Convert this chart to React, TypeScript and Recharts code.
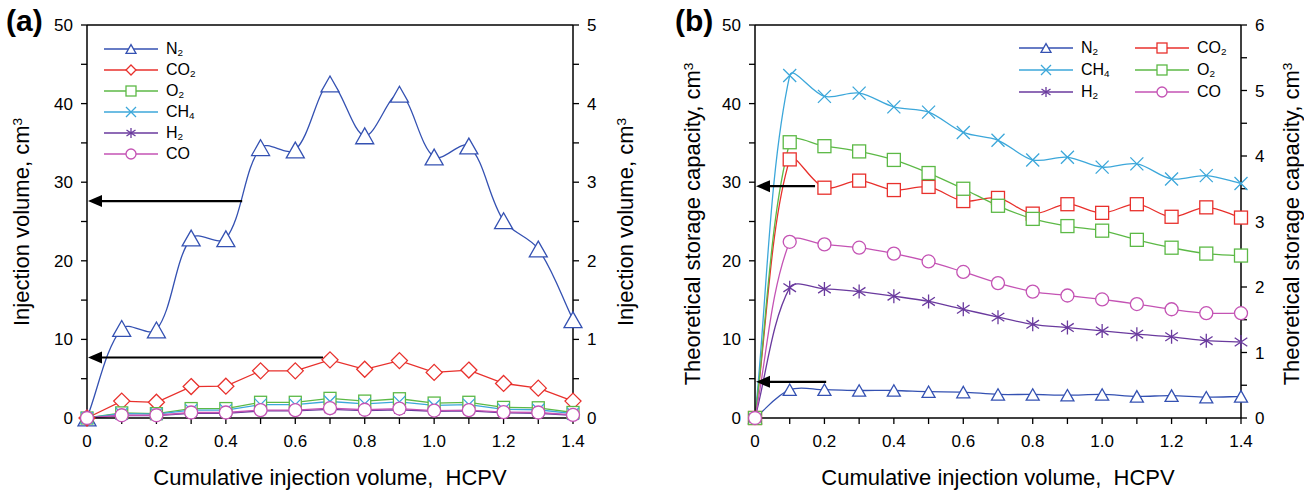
import React from 'react';
import { LineChart, Line, XAxis, YAxis, ReferenceLine, Legend } from 'recharts';

const FONT = '"Liberation Sans", Arial, Helvetica, sans-serif';

// cumulative injection volume, HCPV
const hcpv = [0, 0.1, 0.2, 0.3, 0.4, 0.5, 0.6, 0.7, 0.8, 0.9, 1.0, 1.1, 1.2, 1.3, 1.4];
const xTicks = [0, 0.1, 0.2, 0.3, 0.4, 0.5, 0.6, 0.7, 0.8, 0.9, 1.0, 1.1, 1.2, 1.3, 1.4];
const leftTicks = [0, 5, 10, 15, 20, 25, 30, 35, 40, 45, 50];
const rightTicksA = [0, 0.5, 1, 1.5, 2, 2.5, 3, 3.5, 4, 4.5, 5];
const rightTicksB = [0, 0.5, 1, 1.5, 2, 2.5, 3, 3.5, 4, 4.5, 5, 5.5, 6];

// (a) injection volume, cm3 -- N2 / CO2 on the left axis, the rest on the right axis
const injN2 = [0, 11.4, 11.2, 22.9, 22.8, 34.4, 34.1, 42.5, 35.9, 41.2, 33.2, 34.6, 25.1, 21.5, 12.5];
const injCO2 = [0, 2.15, 2.0, 4.0, 4.05, 6.0, 6.0, 7.4, 6.2, 7.3, 5.8, 6.1, 4.4, 3.8, 2.15];
const injO2 = [0, 0.065, 0.055, 0.12, 0.12, 0.2, 0.2, 0.25, 0.215, 0.245, 0.19, 0.2, 0.135, 0.13, 0.07];
const injCH4 = [0, 0.055, 0.05, 0.1, 0.1, 0.17, 0.17, 0.21, 0.18, 0.205, 0.16, 0.17, 0.11, 0.105, 0.055];
const injH2 = [0, 0.03, 0.03, 0.06, 0.06, 0.09, 0.09, 0.11, 0.095, 0.105, 0.085, 0.09, 0.065, 0.06, 0.035];
const injCO = [0, 0.035, 0.035, 0.07, 0.07, 0.1, 0.1, 0.125, 0.105, 0.12, 0.095, 0.1, 0.075, 0.07, 0.04];

// (b) theoretical storage capacity, cm3 -- N2 / CO2 left axis, the rest right axis
const stoN2 = [0, 3.6, 3.6, 3.5, 3.5, 3.35, 3.3, 3.0, 3.0, 2.9, 3.0, 2.75, 2.85, 2.65, 2.75];
const stoCO2 = [0, 32.9, 29.3, 30.2, 29.0, 29.4, 27.6, 28.0, 26.0, 27.2, 26.1, 27.2, 25.6, 26.8, 25.5];
const stoCH4 = [0, 5.23, 4.91, 4.96, 4.75, 4.67, 4.36, 4.24, 3.94, 3.98, 3.83, 3.88, 3.65, 3.7, 3.58];
const stoO2 = [0, 4.21, 4.15, 4.07, 3.94, 3.74, 3.5, 3.24, 3.04, 2.93, 2.86, 2.72, 2.6, 2.51, 2.48];
const stoH2 = [0, 1.99, 1.97, 1.93, 1.86, 1.78, 1.66, 1.54, 1.43, 1.38, 1.33, 1.28, 1.24, 1.18, 1.16];
const stoCO = [0, 2.69, 2.65, 2.6, 2.51, 2.39, 2.23, 2.06, 1.93, 1.87, 1.81, 1.74, 1.66, 1.6, 1.6];

// arrows pointing to the left axis: start x (HCPV) and level (left-axis units)
const arrowsA = [
  { from: 0.447, y: 27.6 },
  { from: 0.68, y: 7.7 },
];
const arrowsB = [
  { from: 0.173, y: 29.5 },
  { from: 0.205, y: 4.6 },
];

const rowsA = hcpv.map((x, i) => ({
  x, n2: injN2[i], co2: injCO2[i], o2: injO2[i], ch4: injCH4[i], h2: injH2[i], co: injCO[i],
}));
const rowsB = hcpv.map((x, i) => ({
  x, n2: stoN2[i], co2: stoCO2[i], ch4: stoCH4[i], o2: stoO2[i], h2: stoH2[i], co: stoCO[i],
}));

const sub = (s: string) => <sub style={{ fontSize: '0.62em', verticalAlign: '-0.2em', lineHeight: 0 }}>{s}</sub>;

const gas: Record<string, { color: string; label: React.ReactNode }> = {
  n2: { color: '#3451b2', label: <>N{sub('2')}</> },
  co2: { color: '#e8302c', label: <>CO{sub('2')}</> },
  o2: { color: '#5cb946', label: <>O{sub('2')}</> },
  ch4: { color: '#3ca7da', label: <>CH{sub('4')}</> },
  h2: { color: '#6a3a9e', label: <>H{sub('2')}</> },
  co: { color: '#c453b4', label: <>CO</> },
};

// marker shapes differ a little between the panels (CO2 is a diamond in (a), a square in (b))
const shapesA: Record<string, string> = { n2: 'triangle', co2: 'diamond', o2: 'square', ch4: 'cross', h2: 'star', co: 'circle' };
const shapesB: Record<string, string> = { n2: 'triangle', co2: 'square', o2: 'square', ch4: 'cross', h2: 'star', co: 'circle' };

// smoothed line similar to a spreadsheet "smoothed line": bezier tangents weighted by segment length
const smoothCurve: any = (context: any) => {
  let pts: number[][] = [];
  return {
    areaStart() {},
    areaEnd() {},
    lineStart() { pts = []; },
    point(x: number, y: number) { pts.push([+x, +y]); },
    lineEnd() {
      const n = pts.length;
      if (!n) return;
      context.moveTo(pts[0][0], pts[0][1]);
      const d = (a: number[], b: number[]) => Math.hypot(b[0] - a[0], b[1] - a[1]);
      for (let i = 0; i < n - 1; i++) {
        const p0 = pts[Math.max(i - 1, 0)], p1 = pts[i], p2 = pts[i + 1], p3 = pts[Math.min(i + 2, n - 1)];
        const d01 = d(p0, p1), d12 = d(p1, p2), d23 = d(p2, p3);
        const f1 = d01 + d12 > 0 ? d12 / (d01 + d12) / 3 : 0;
        const f2 = d12 + d23 > 0 ? d12 / (d12 + d23) / 3 : 0;
        context.bezierCurveTo(
          p1[0] + (p2[0] - p0[0]) * f1, p1[1] + (p2[1] - p0[1]) * f1,
          p2[0] - (p3[0] - p1[0]) * f2, p2[1] - (p3[1] - p1[1]) * f2,
          p2[0], p2[1],
        );
      }
    },
  };
};

function Marker({ shape, cx, cy, size, color }: any) {
  const h = size / 2;
  const p = { fill: '#fff', stroke: color, strokeWidth: 1.3 };
  if (shape === 'triangle') {
    const th = h * 0.88;
    return <polygon {...p} points={`${cx},${cy - th} ${cx - h},${cy + th} ${cx + h},${cy + th}`} />;
  }
  if (shape === 'diamond') {
    return <polygon {...p} points={`${cx},${cy - h} ${cx + h},${cy} ${cx},${cy + h} ${cx - h},${cy}`} />;
  }
  if (shape === 'square') return <rect {...p} x={cx - h} y={cy - h} width={size} height={size} />;
  if (shape === 'circle') return <circle {...p} cx={cx} cy={cy} r={h} />;
  if (shape === 'cross') {
    return <path {...p} fill="none" d={`M${cx - h},${cy - h}L${cx + h},${cy + h}M${cx - h},${cy + h}L${cx + h},${cy - h}`} />;
  }
  const a = h * 0.9, b = h * 0.6;
  return (
    <path {...p} fill="none"
      d={`M${cx},${cy - h}L${cx},${cy + h}M${cx - a},${cy - b}L${cx + a},${cy + b}M${cx - a},${cy + b}L${cx + a},${cy - b}`} />
  );
}

const dotFor = (key: string, shape: string, size: number) => (props: any) => {
  const { cx, cy, index } = props;
  if (cx == null || cy == null) return <g key={`${key}-${index}`} />;
  return (
    <g key={`${key}-${index}`}>
      <Marker shape={shape} cx={cx} cy={cy} size={size} color={gas[key].color} />
    </g>
  );
};

const arrowShape = (props: any) => {
  const { x1, y1, x2, y2 } = props;
  const head = 15;
  const half = 6;
  return (
    <g>
      <line x1={x1} y1={y1} x2={x2 + head - 1} y2={y2} stroke="#000" strokeWidth={2.2} />
      <polygon points={`${x2 + 1},${y2} ${x2 + head},${y2 - half} ${x2 + head},${y2 + half}`} fill="#000" />
    </g>
  );
};

const LegendItem = ({ k, shape }: { k: string; shape: string }) => (
  <div style={{ display: 'flex', alignItems: 'center', height: 21, lineHeight: 1 }}>
    <svg width={54} height={14} style={{ overflow: 'visible' }}>
      <line x1={0} x2={54} y1={7} y2={7} stroke={gas[k].color} strokeWidth={1.6} />
      <Marker shape={shape} cx={27} cy={7} size={10} color={gas[k].color} />
    </svg>
    <span style={{ marginLeft: 8, fontSize: 16, fontFamily: FONT, color: '#000' }}>{gas[k].label}</span>
  </div>
);

const legendA = () => (
  <div>
    {['n2', 'co2', 'o2', 'ch4', 'h2', 'co'].map((k) => <LegendItem key={k} k={k} shape={shapesA[k]} />)}
  </div>
);

const legendB = () => (
  <div style={{ display: 'grid', gridTemplateColumns: '116px 110px', rowGap: 1 }}>
    {['n2', 'co2', 'ch4', 'o2', 'h2', 'co'].map((k) => <LegendItem key={k} k={k} shape={shapesB[k]} />)}
  </div>
);

const tickStyle = { fill: '#000', fontSize: 17, fontFamily: FONT };
const axisLine = { stroke: '#000', strokeWidth: 1.5 };
const tickLine = { stroke: '#000', strokeWidth: 1.3 };
const fmtX = (v: number) => (Math.round(v * 10) % 2 ? '' : v === 0 ? '0' : v.toFixed(1));
const fmtLeft = (v: number) => (v % 10 === 0 ? String(v) : '');
const fmtRight = (v: number) => (Number.isInteger(v) ? String(v) : '');

const VTitle = ({ x, y, children }: any) => (
  <div style={{
    position: 'absolute', left: x, top: y, transform: 'translate(-50%, -50%) rotate(-90deg)',
    whiteSpace: 'nowrap', fontSize: 22, lineHeight: 1, fontFamily: FONT,
  }}>{children}</div>
);

const HTitle = ({ x, y, children }: any) => (
  <div style={{
    position: 'absolute', left: x, top: y, transform: 'translate(-50%, -50%)',
    whiteSpace: 'pre', fontSize: 22, lineHeight: 1, fontFamily: FONT,
  }}>{children}</div>
);

const cm3 = <>cm<sup style={{ fontSize: '0.62em', verticalAlign: '0.55em', lineHeight: 0 }}>3</sup></>;

export default function App() {
  return (
    <div style={{ position: 'relative', width: 1304, height: 490, background: '#fff', fontFamily: FONT, overflow: 'hidden' }}>
      <style>{'body{margin:0}'}</style>

      <div style={{ position: 'absolute', left: 0, top: 0 }}>
        <LineChart width={652} height={490} data={rowsA} margin={{ top: 25, right: 39, bottom: 42, left: 47 }}>
          <XAxis dataKey="x" type="number" domain={[0, 1.4]} ticks={xTicks} interval={0} tickFormatter={fmtX}
            tick={tickStyle} axisLine={axisLine} tickLine={tickLine} tickSize={6} tickMargin={11} height={30} />
          <YAxis yAxisId="left" domain={[0, 50]} ticks={leftTicks} interval={0} tickFormatter={fmtLeft}
            tick={tickStyle} axisLine={axisLine} tickLine={tickLine} tickSize={6} tickMargin={8} width={40} />
          <YAxis yAxisId="right" orientation="right" domain={[0, 5]} ticks={rightTicksA} interval={0} tickFormatter={fmtRight}
            tick={tickStyle} axisLine={axisLine} tickLine={tickLine} tickSize={6} tickMargin={8} width={40} />
          <ReferenceLine yAxisId="left" y={50} stroke="#000" strokeWidth={1.5} />
          <Line yAxisId="left" dataKey="n2" type={smoothCurve} stroke={gas.n2.color} strokeWidth={1.3}
            dot={dotFor('n2', shapesA.n2, 18)} activeDot={false} isAnimationActive={false} />
          <Line yAxisId="left" dataKey="co2" type="linear" stroke={gas.co2.color} strokeWidth={1.3}
            dot={dotFor('co2', shapesA.co2, 16)} activeDot={false} isAnimationActive={false} />
          <Line yAxisId="right" dataKey="o2" type="linear" stroke={gas.o2.color} strokeWidth={1.3}
            dot={dotFor('o2', shapesA.o2, 12)} activeDot={false} isAnimationActive={false} />
          <Line yAxisId="right" dataKey="ch4" type="linear" stroke={gas.ch4.color} strokeWidth={1.3}
            dot={dotFor('ch4', shapesA.ch4, 12)} activeDot={false} isAnimationActive={false} />
          <Line yAxisId="right" dataKey="h2" type="linear" stroke={gas.h2.color} strokeWidth={1.3}
            dot={dotFor('h2', shapesA.h2, 12)} activeDot={false} isAnimationActive={false} />
          <Line yAxisId="right" dataKey="co" type="linear" stroke={gas.co.color} strokeWidth={1.3}
            dot={dotFor('co', shapesA.co, 13)} activeDot={false} isAnimationActive={false} />
          {arrowsA.map((a, i) => (
            <ReferenceLine key={i} yAxisId="left" segment={[{ x: a.from, y: a.y }, { x: 0, y: a.y }]} shape={arrowShape} />
          ))}
          <Legend layout="horizontal" verticalAlign="middle" align="center" content={legendA}
            wrapperStyle={{ left: 104, top: 38, width: 140 }} />
        </LineChart>
      </div>

      <div style={{ position: 'absolute', left: 652, top: 0 }}>
        <LineChart width={652} height={490} data={rowsB} margin={{ top: 25, right: 23, bottom: 42, left: 63 }}>
          <XAxis dataKey="x" type="number" domain={[0, 1.4]} ticks={xTicks} interval={0} tickFormatter={fmtX}
            tick={tickStyle} axisLine={axisLine} tickLine={tickLine} tickSize={6} tickMargin={11} height={30} />
          <YAxis yAxisId="left" domain={[0, 50]} ticks={leftTicks} interval={0} tickFormatter={fmtLeft}
            tick={tickStyle} axisLine={axisLine} tickLine={tickLine} tickSize={6} tickMargin={8} width={40} />
          <YAxis yAxisId="right" orientation="right" domain={[0, 6]} ticks={rightTicksB} interval={0} tickFormatter={fmtRight}
            tick={tickStyle} axisLine={axisLine} tickLine={tickLine} tickSize={6} tickMargin={8} width={40} />
          <ReferenceLine yAxisId="left" y={50} stroke="#000" strokeWidth={1.5} />
          <Line yAxisId="left" dataKey="n2" type={smoothCurve} stroke={gas.n2.color} strokeWidth={1.3}
            dot={dotFor('n2', shapesB.n2, 13)} activeDot={false} isAnimationActive={false} />
          <Line yAxisId="left" dataKey="co2" type={smoothCurve} stroke={gas.co2.color} strokeWidth={1.3}
            dot={dotFor('co2', shapesB.co2, 13)} activeDot={false} isAnimationActive={false} />
          <Line yAxisId="right" dataKey="ch4" type={smoothCurve} stroke={gas.ch4.color} strokeWidth={1.3}
            dot={dotFor('ch4', shapesB.ch4, 13)} activeDot={false} isAnimationActive={false} />
          <Line yAxisId="right" dataKey="o2" type={smoothCurve} stroke={gas.o2.color} strokeWidth={1.3}
            dot={dotFor('o2', shapesB.o2, 13)} activeDot={false} isAnimationActive={false} />
          <Line yAxisId="right" dataKey="h2" type={smoothCurve} stroke={gas.h2.color} strokeWidth={1.3}
            dot={dotFor('h2', shapesB.h2, 14)} activeDot={false} isAnimationActive={false} />
          <Line yAxisId="right" dataKey="co" type={smoothCurve} stroke={gas.co.color} strokeWidth={1.3}
            dot={dotFor('co', shapesB.co, 13)} activeDot={false} isAnimationActive={false} />
          {arrowsB.map((a, i) => (
            <ReferenceLine key={i} yAxisId="left" segment={[{ x: a.from, y: a.y }, { x: 0, y: a.y }]} shape={arrowShape} />
          ))}
          <Legend layout="horizontal" verticalAlign="middle" align="center" content={legendB}
            wrapperStyle={{ left: 367, top: 37, width: 240 }} />
        </LineChart>
      </div>

      <div style={{ position: 'absolute', left: 6, top: 6, fontSize: 30, fontWeight: 700, lineHeight: 1 }}>(a)</div>
      <div style={{ position: 'absolute', left: 675, top: 6, fontSize: 30, fontWeight: 700, lineHeight: 1 }}>(b)</div>

      <VTitle x={22} y={222}>Injection volume, {cm3}</VTitle>
      <VTitle x={626} y={222}>Injection volume, {cm3}</VTitle>
      <VTitle x={693} y={224}>Theoretical storage capacity, {cm3}</VTitle>
      <VTitle x={1292} y={224}>Theoretical storage capacity, {cm3}</VTitle>
      <HTitle x={330} y={478}>{'Cumulative injection volume,  HCPV'}</HTitle>
      <HTitle x={998} y={478}>{'Cumulative injection volume,  HCPV'}</HTitle>
    </div>
  );
}
